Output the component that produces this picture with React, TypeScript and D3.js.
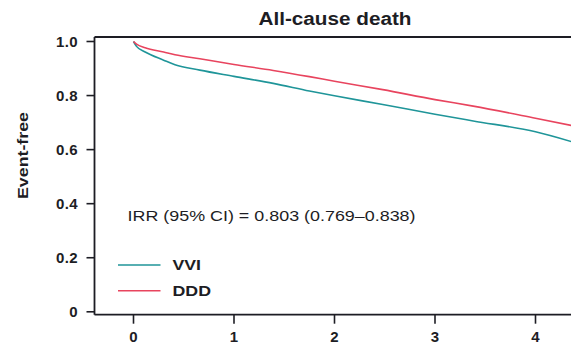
import * as d3 from "d3";

// Kaplan-Meier style event-free curves
const TIME = [0, 0.03, 0.116, 0.3, 0.413, 0.66, 1.0, 1.39, 1.75, 2.0, 2.48, 3.0, 3.38, 4.0, 4.4];
const VVI = [1.0, 0.982, 0.961, 0.931, 0.914, 0.894, 0.871, 0.845, 0.817, 0.799, 0.767, 0.731, 0.706, 0.666, 0.625];
const DDD = [1.0, 0.990, 0.977, 0.961, 0.951, 0.936, 0.915, 0.893, 0.870, 0.853, 0.822, 0.785, 0.761, 0.716, 0.686];

const SERIES = [
  { label: "VVI", values: VVI, color: "#1f9599" },
  { label: "DDD", values: DDD, color: "#e8445e" },
];

const X_TICKS = [0, 1, 2, 3, 4];
const Y_TICKS = [0, 0.2, 0.4, 0.6, 0.8, 1.0];
const Y_TICK_LABELS = ["0", "0.2", "0.4", "0.6", "0.8", "1.0"];

const TITLE = "All-cause death";
const Y_LABEL = "Event-free";
const IRR_TEXT = "IRR (95% CI) = 0.803 (0.769\u20130.838)";

const W = 571;
const H = 345;
const FONT = "'Liberation Sans', Arial, Helvetica, sans-serif";
const INK = "#1d1d24";

export default function App() {
  const x = d3.scaleLinear().domain([0, 4]).range([133.5, 535.5]);
  const y = d3.scaleLinear().domain([0, 1]).range([311.8, 41.5]);

  const left = 94.5;
  const top = 37;
  const bottom = 314.7;

  const line = d3
    .line<number>()
    .x((_, i) => x(TIME[i]))
    .y((v) => y(v))
    .curve(d3.curveMonotoneX);

  return (
    <svg
      width={W}
      height={H}
      style={{ position: "absolute", left: 0, top: 0, background: "#fff" }}
      fontFamily={FONT}
    >
      {/* title */}
      <text x={335} y={25} textAnchor="middle" fontSize={17.5} fontWeight={700} fill={INK}
        textLength={153} lengthAdjust="spacingAndGlyphs">
        {TITLE}
      </text>

      {/* y label */}
      <text
        x={0} y={0}
        transform={`translate(27.5,155.5) rotate(-90)`}
        textAnchor="middle" fontSize={15} fontWeight={700} fill={INK}
        textLength={87} lengthAdjust="spacingAndGlyphs"
      >
        {Y_LABEL}
      </text>

      {/* curves */}
      {SERIES.map((s) => (
        <path key={s.label} d={line(s.values) ?? ""} fill="none" stroke={s.color} strokeWidth={1.6} />
      ))}

      {/* frame: top, left, bottom */}
      <line x1={left} x2={W} y1={top} y2={top} stroke={INK} strokeWidth={1.8} />
      <line x1={left} x2={left} y1={top} y2={bottom} stroke={INK} strokeWidth={1.8} />
      <line x1={left} x2={W} y1={bottom} y2={bottom} stroke={INK} strokeWidth={1.8} />

      {/* y ticks */}
      {Y_TICKS.map((t, i) => (
        <g key={t}>
          <line x1={left - 8} x2={left} y1={y(t)} y2={y(t)} stroke={INK} strokeWidth={1.6} />
          <text x={78} y={y(t)} dy="0.36em" textAnchor="end" fontSize={15} fontWeight={700} fill={INK}
            letterSpacing={0.4}>
            {Y_TICK_LABELS[i]}
          </text>
        </g>
      ))}

      {/* x ticks */}
      {X_TICKS.map((t) => (
        <g key={t}>
          <line x1={x(t)} x2={x(t)} y1={bottom} y2={bottom + 9} stroke={INK} strokeWidth={1.6} />
          <text x={x(t)} y={341.5} textAnchor="middle" fontSize={15} fontWeight={700} fill={INK}>
            {t}
          </text>
        </g>
      ))}

      {/* IRR annotation */}
      <text x={127.5} y={221.3} fontSize={15.5} fill={INK} textLength={288} lengthAdjust="spacingAndGlyphs">
        {IRR_TEXT}
      </text>

      {/* legend */}
      {SERIES.map((s, i) => {
        const ly = 265 + i * 25.7;
        return (
          <g key={s.label}>
            <line x1={118} x2={160.5} y1={ly} y2={ly} stroke={s.color} strokeWidth={1.6} />
            <text x={172.5} y={ly} dy="0.36em" fontSize={15} fontWeight={700} fill={INK}
              textLength={i === 0 ? 28.5 : 38.5} lengthAdjust="spacingAndGlyphs">
              {s.label}
            </text>
          </g>
        );
      })}
    </svg>
  );
}
